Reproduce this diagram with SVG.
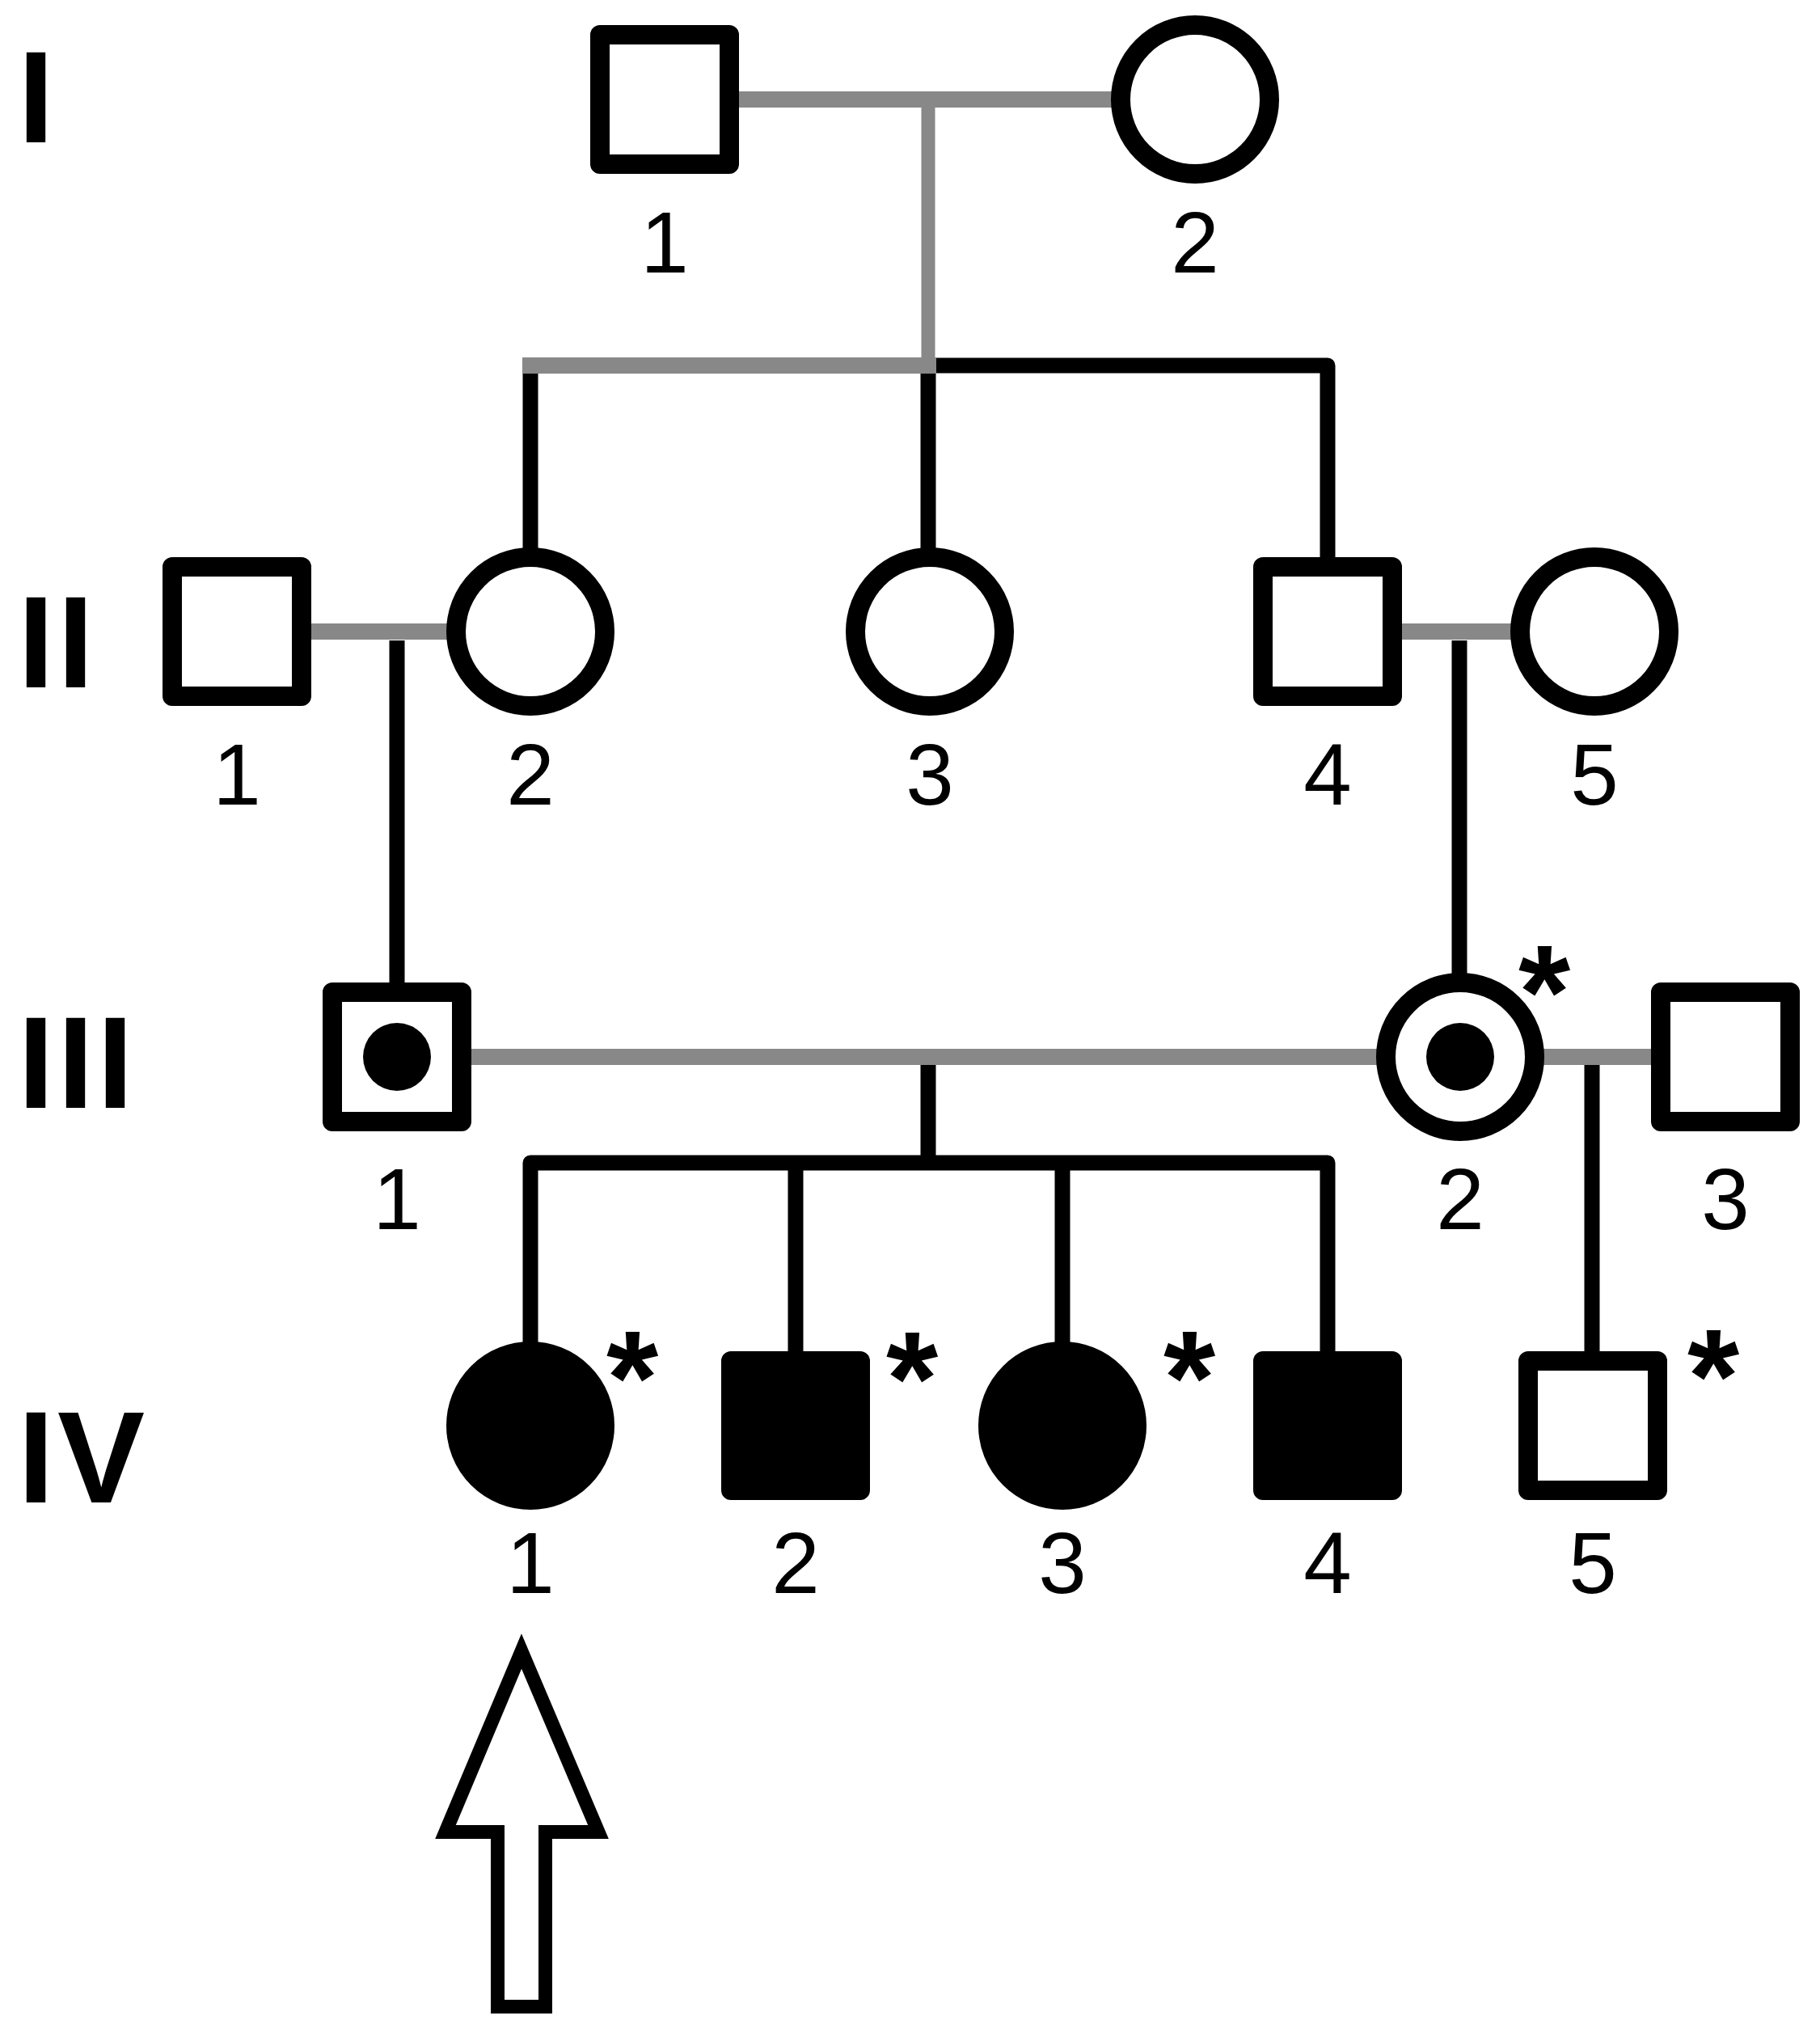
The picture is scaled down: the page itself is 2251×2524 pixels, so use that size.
<svg xmlns="http://www.w3.org/2000/svg" width="2251" height="2524" viewBox="0 0 2251 2524">
<style>
.bg{fill:#ffffff}
.node{fill:#ffffff;stroke:#000000;stroke-width:24;stroke-linejoin:round}
.aff{fill:#000000;stroke:#000000;stroke-width:24;stroke-linejoin:round}
.dot{fill:#000000}
.gray{stroke:#888888;stroke-width:20;fill:none}
.grayv{stroke:#888888;stroke-width:17;fill:none}
.blk{stroke:#000000;stroke-width:19;fill:none;stroke-linejoin:round}
.lbl{font-family:"Liberation Sans",Arial,sans-serif;font-size:107px;fill:#000000;text-anchor:middle}
.gen{font-family:"Liberation Sans",Arial,sans-serif;font-size:162px;font-weight:bold;fill:#000000;letter-spacing:4px}
.ast{font-family:"Liberation Sans",Arial,sans-serif;font-size:165px;font-weight:bold;fill:#000000;text-anchor:middle}
.arrow{fill:#ffffff;stroke:#000000;stroke-width:17;stroke-linejoin:miter;stroke-miterlimit:10}
</style>
<rect class="bg" x="0" y="0" width="2251" height="2524"/>

<g id="generation-labels">
<text class="gen" x="22" y="176">I</text>
<text class="gen" x="22" y="850">II</text>
<text class="gen" x="22" y="1370">III</text>
<text class="gen" x="22" y="1858">IV</text>
</g>

<g id="connectors">
<line class="gray" x1="905" y1="123" x2="1390" y2="123"/>
<line class="grayv" x1="1148" y1="123" x2="1148" y2="462"/>
<line class="blk" x1="656" y1="460" x2="656" y2="680"/>
<line class="blk" x1="1148" y1="460" x2="1148" y2="680"/>
<path class="blk" d="M1157,452 H1642 V690"/>
<line class="gray" x1="656" y1="452" x2="1148" y2="452" stroke-linecap="square"/>
<line class="gray" x1="380" y1="781" x2="560" y2="781" stroke-width="22"/>
<line class="blk" x1="491" y1="792" x2="491" y2="1216"/>
<line class="gray" x1="1730" y1="781" x2="1875" y2="781" stroke-width="22"/>
<line class="blk" x1="1805" y1="792" x2="1805" y2="1205"/>
<line class="gray" x1="580" y1="1307" x2="1705" y2="1307"/>
<line class="blk" x1="1148" y1="1317" x2="1148" y2="1438"/>
<path class="blk" d="M656,1662 V1438 H1642 V1672"/>
<line class="blk" x1="984" y1="1438" x2="984" y2="1672"/>
<line class="blk" x1="1314" y1="1438" x2="1314" y2="1662"/>
<line class="gray" x1="1905" y1="1307" x2="2045" y2="1307"/>
<line class="blk" x1="1969" y1="1317" x2="1969" y2="1672"/>
</g>

<g id="I-1"><rect class="node" x="742" y="43" width="160" height="160"/><text class="lbl" x="822" y="337">1</text></g>
<g id="I-2"><circle class="node" cx="1478" cy="123" r="92"/><text class="lbl" x="1478" y="337">2</text></g>

<g id="II-1"><rect class="node" x="213" y="701" width="160" height="160"/><text class="lbl" x="293" y="995">1</text></g>
<g id="II-2"><circle class="node" cx="656" cy="781" r="92"/><text class="lbl" x="656" y="995">2</text></g>
<g id="II-3"><circle class="node" cx="1150" cy="781" r="92"/><text class="lbl" x="1150" y="995">3</text></g>
<g id="II-4"><rect class="node" x="1562" y="701" width="160" height="160"/><text class="lbl" x="1642" y="995">4</text></g>
<g id="II-5"><circle class="node" cx="1972" cy="781" r="92"/><text class="lbl" x="1972" y="995">5</text></g>

<g id="III-1"><rect class="node" x="411" y="1227" width="160" height="160"/><circle class="dot" cx="491" cy="1307" r="42"/><text class="lbl" x="491" y="1520">1</text></g>
<g id="III-2"><circle class="node" cx="1806" cy="1307" r="92"/><circle class="dot" cx="1806" cy="1307" r="42"/><text class="ast" x="1910" y="1284">*</text><text class="lbl" x="1806" y="1520">2</text></g>
<g id="III-3"><rect class="node" x="2054" y="1227" width="160" height="160"/><text class="lbl" x="2134" y="1520">3</text></g>

<g id="IV-1"><circle class="aff" cx="656" cy="1763" r="92"/><text class="ast" x="782" y="1761">*</text><text class="lbl" x="656" y="1970">1</text></g>
<g id="IV-2"><rect class="aff" x="904" y="1683" width="160" height="160"/><text class="ast" x="1128" y="1762">*</text><text class="lbl" x="984" y="1970">2</text></g>
<g id="IV-3"><circle class="aff" cx="1314" cy="1763" r="92"/><text class="ast" x="1471" y="1761">*</text><text class="lbl" x="1314" y="1970">3</text></g>
<g id="IV-4"><rect class="aff" x="1562" y="1683" width="160" height="160"/><text class="lbl" x="1642" y="1970">4</text></g>
<g id="IV-5"><rect class="node" x="1890" y="1683" width="160" height="160"/><text class="ast" x="2119" y="1759">*</text><text class="lbl" x="1970" y="1970">5</text></g>

<g id="proband-arrow">
<polygon class="arrow" points="645,2042 740,2265.5 674.5,2265.5 674.5,2481.5 615.5,2481.5 615.5,2265.5 551,2265.5"/>
</g>
</svg>
